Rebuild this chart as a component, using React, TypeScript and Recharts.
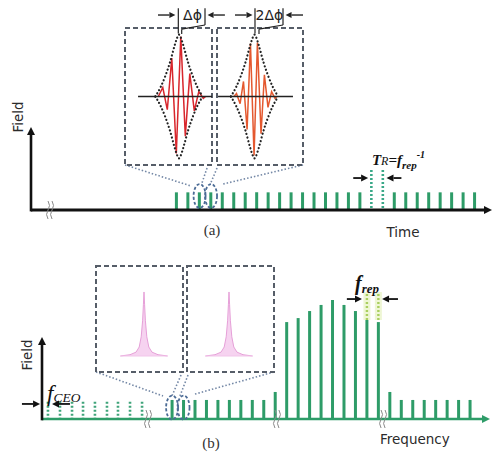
import React from "react";
import {
  Area,
  AreaChart,
  Bar,
  ComposedChart,
  Line,
  LineChart,
  ReferenceArea,
  ReferenceDot,
  ReferenceLine,
  XAxis,
  YAxis,
} from "recharts";

// (a) time domain: one pulse per round trip, two of them marked with dotted lines
const pulseSlot = [0, 1, 2, 3, 4, 5, 6, 7, 8, 9, 10, 11, 12, 13, 14, 15, 16, 17, 18, 19, 20, 21, 22, 23, 24, 25, 26];
const pulseField = [1, 1, 1, 1, 1, 1, 1, 1, 1, 1, 1, 1, 1, 1, 1, 1, 1, 0, 0, 1, 1, 1, 1, 1, 1, 1, 1];
const roundTripMark = [0, 0, 0, 0, 0, 0, 0, 0, 0, 0, 0, 0, 0, 0, 0, 0, 0, 2.27, 2.27, 0, 0, 0, 0, 0, 0, 0, 0];

// zoomed pulses (carrier extrema, fs) and their envelope
const cep1Time = [-9.2, -7.2, -5.2, -3.2, -1.2, 0.8, 2.8, 4.8, 6.8, 8.8, 10.8, 11.8];
const cep1Field = [0, 0.15, -0.22, 0.64, -0.95, 1.0, -0.66, 0.38, -0.24, 0.08, -0.03, 0];
const cep2Time = [-9.1, -8.0, -6.4, -4.9, -3.3, -1.8, -0.2, 1.3, 2.9, 4.4, 6.0, 7.6, 9.1, 10.0];
const cep2Field = [0, 0.05, -0.12, 0.25, -0.55, 0.88, -0.98, 0.9, -0.62, 0.36, -0.18, 0.08, -0.03, 0];
const envTime = [-10.5, -8, -6, -4, -2, -0.8, 0, 0.8, 2, 4, 6, 8, 10.5];
const envField = [0, 0.17, 0.35, 0.57, 0.84, 0.98, 1.03, 0.98, 0.84, 0.57, 0.35, 0.17, 0];

// (b) frequency domain: offset comb (dotted) and the visible modes, in units of f_rep
const ceoFreq = [0.52, 1.57, 2.62, 3.58, 4.62, 5.67, 6.63, 7.68, 8.73];
const ceoLevel = [0.9, 0.9, 0.9, 0.9, 0.9, 0.9, 0.9, 0.9, 0.9];
const modeFreq = [
  11.35, 12.35, 13.35, 14.35, 15.35, 16.35, 17.35, 18.35, 19.35, 20.35, 21.35, 22.35, 23.35, 24.35,
  25.35, 26.35, 27.35, 28.35, 29.35, 30.35, 31.35, 32.35, 33.35, 34.35, 35.35, 36.35, 37.35,
];
const modeLevel = [
  1, 1, 1, 1, 1, 1, 1, 1, 1, 1.42, 5.09, 5.3, 5.67, 5.99, 6.25, 5.99, 5.67, 5.3, 5.09, 1.42, 1, 1, 1, 1,
  1, 1, 1,
];

// single comb line shape
const lineDetuning = [-5.9, -3.5, -2, -1.2, -0.7, -0.35, -0.15, 0, 0.15, 0.35, 0.7, 1.2, 2, 3.5, 5.9];
const lineStrength = [0, 0.02, 0.06, 0.14, 0.3, 0.55, 0.8, 1, 0.8, 0.55, 0.3, 0.14, 0.06, 0.02, 0];

const GREEN = "#2e9c68";
const FRAME = "#565d68";
const LINK = "#7488a6";
const RING = "#4b6b95";
const INK = "#111";

const timeRows = pulseSlot.map((t, i) => ({ t, amp: pulseField[i], mark: roundTripMark[i] }));
const freqRows = [
  ...ceoFreq.map((f, i) => ({ f, amp: 0, ceo: ceoLevel[i] })),
  ...modeFreq.map((f, i) => ({ f, amp: modeLevel[i], ceo: 0 })),
];
const toRows = (xs: number[], ys: number[]) => xs.map((t, i) => ({ t, v: ys[i] }));
const envUpper = toRows(envTime, envField);
const envLower = toRows(envTime, envField.map((v) => -v));
const lineRows = toRows(lineDetuning, lineStrength);

function arrowShape(color: string, width: number, head = 7) {
  return (p: any) => {
    const { x1, y1, x2, y2 } = p;
    const a = Math.atan2(y2 - y1, x2 - x1);
    const bx = x2 - head * Math.cos(a);
    const by = y2 - head * Math.sin(a);
    const hw = head * 0.5;
    const px = -Math.sin(a) * hw;
    const py = Math.cos(a) * hw;
    return (
      <g>
        <line x1={x1} y1={y1} x2={bx} y2={by} stroke={color} strokeWidth={width} />
        <polygon points={`${x2},${y2} ${bx + px},${by + py} ${bx - px},${by - py}`} fill={color} />
      </g>
    );
  };
}

const dottedBar = (color: string) => (p: any) =>
  p.height > 0.5 ? (
    <line
      x1={p.x + p.width / 2}
      x2={p.x + p.width / 2}
      y1={p.y}
      y2={p.y + p.height}
      stroke={color}
      strokeWidth={2.6}
      strokeDasharray="2 2"
    />
  ) : (
    <g />
  );

const ring = (p: any) => (
  <ellipse cx={p.cx} cy={p.cy} rx={6} ry={12} fill="none" stroke={RING} strokeWidth={1.8} strokeDasharray="3 2" />
);

const breakMark = (p: any) => {
  const s = (x: number) => `M${x},${p.cy - 9} q3,4.5 0,9 q-3,4.5 0,9`;
  return (
    <g fill="none" stroke="#8a8a8a" strokeWidth={1}>
      <path d={s(p.cx - 2)} />
      <path d={s(p.cx + 2)} />
    </g>
  );
};

const trLabel = (p: any) => (
  <text x={p.cx} y={p.cy} fontFamily="Liberation Serif" fontStyle="italic" fontWeight="bold" fontSize={15} fill={INK}>
    T<tspan fontSize={12} fontWeight="normal">R</tspan>=f
    <tspan fontSize={11} dy={4}>rep</tspan>
    <tspan fontSize={10} dy={-11}>-1</tspan>
  </text>
);

const repLabel = (p: any) => (
  <text x={p.cx} y={p.cy} fontFamily="Liberation Serif" fontStyle="italic" fontWeight="bold" fontSize={20} fill={INK}>
    f<tspan fontSize={13} dy={3}>rep</tspan>
  </text>
);

const ceoLabel = (p: any) => (
  <text x={p.cx} y={p.cy} fontFamily="Liberation Serif" fontStyle="italic" fontSize={23} fill={INK}>
    f<tspan fontSize={13.5} dy={1}>CEO</tspan>
  </text>
);

const phaseLabel = (txt: string) => (p: any) => (
  <text x={p.cx} y={p.cy + 5} textAnchor="middle" fontFamily="DejaVu Sans" fontSize={14} fill="#222">
    {txt}
  </text>
);

const seg = (x1: number, y1: number, x2: number, y2: number) => [
  { x: x1, y: y1 },
  { x: x2, y: y2 },
];

interface PhaseInsetProps {
  left: number;
  width: number;
  marginLeft: number;
  marginRight: number;
  domain: [number, number];
  wave: { t: number; v: number }[];
  color: string;
  axisFrom: number;
  axisTo: number;
  envBar: number;
  peakBar: number;
  peakAt: number;
  arrowIn: [number, number];
  arrowOut: [number, number];
  text: string;
  textAt: number;
}

function PhaseInset(props: PhaseInsetProps) {
  const { domain } = props;
  return (
    <div style={{ position: "absolute", left: props.left, top: 0 }}>
      <LineChart
        width={props.width}
        height={170}
        margin={{ top: 28, bottom: 5, left: props.marginLeft, right: props.marginRight }}
      >
        <XAxis type="number" dataKey="t" domain={domain} allowDataOverflow hide />
        <YAxis type="number" domain={[-1.14, 1.14]} allowDataOverflow hide />
        <ReferenceArea
          x1={domain[0]}
          x2={domain[1]}
          y1={-1.14}
          y2={1.14}
          fill="none"
          stroke={FRAME}
          strokeWidth={2}
          strokeDasharray="5 3"
          ifOverflow="visible"
        />
        <Line data={props.wave} dataKey="v" type="linear" stroke={props.color} strokeWidth={1.5} dot={false} isAnimationActive={false} />
        <Line
          data={toRows([props.axisFrom, props.axisTo], [0, 0])}
          dataKey="v"
          stroke="#222"
          strokeWidth={1.4}
          dot={false}
          isAnimationActive={false}
        />
        <Line data={envUpper} dataKey="v" type="monotone" stroke="#222" strokeWidth={2.2} strokeDasharray="0.1 3.6" strokeLinecap="round" dot={false} isAnimationActive={false} />
        <Line data={envLower} dataKey="v" type="monotone" stroke="#222" strokeWidth={2.2} strokeDasharray="0.1 3.6" strokeLinecap="round" dot={false} isAnimationActive={false} />
        <ReferenceLine segment={seg(props.envBar, 1.05, props.envBar, 1.47)} stroke="#222" strokeWidth={1.2} ifOverflow="visible" />
        <ReferenceLine segment={seg(props.peakBar, 1.47, props.peakBar, 1.19)} stroke="#222" strokeWidth={1.2} ifOverflow="visible" />
        <ReferenceLine segment={seg(props.peakBar, 1.19, props.peakAt, 1.12)} stroke="#222" strokeWidth={1.2} ifOverflow="visible" />
        <ReferenceLine segment={seg(props.peakAt, 1.12, props.peakAt, 1.04)} stroke="#222" strokeWidth={1.2} ifOverflow="visible" />
        <ReferenceLine segment={seg(props.arrowIn[0], 1.356, props.arrowIn[1], 1.356)} shape={arrowShape("#222", 1.4, 6)} ifOverflow="visible" />
        <ReferenceLine segment={seg(props.arrowOut[0], 1.356, props.arrowOut[1], 1.356)} shape={arrowShape("#222", 1.4, 6)} ifOverflow="visible" />
        <ReferenceDot x={props.textAt} y={1.356} r={0} shape={phaseLabel(props.text)} ifOverflow="visible" />
      </LineChart>
    </div>
  );
}

function LineInset({ left, domain }: { left: number; domain: [number, number] }) {
  return (
    <div style={{ position: "absolute", left, top: 264 }}>
      <AreaChart width={91} height={110} data={lineRows} margin={{ top: 2, right: 2, bottom: 2, left: 2 }}>
        <XAxis type="number" dataKey="t" domain={domain} allowDataOverflow hide />
        <YAxis type="number" domain={[-0.25, 1.406]} allowDataOverflow hide />
        <ReferenceArea
          x1={domain[0]}
          x2={domain[1]}
          y1={-0.25}
          y2={1.406}
          fill="none"
          stroke={FRAME}
          strokeWidth={2}
          strokeDasharray="5 3"
          ifOverflow="visible"
        />
        <ReferenceLine segment={seg(-5.9, 0, 5.9, 0)} stroke="#f1c6e9" strokeWidth={1.2} ifOverflow="visible" />
        <Area
          dataKey="v"
          type="linear"
          baseValue={0}
          stroke="#e6a0d8"
          strokeWidth={1}
          fill="#f4c8ec"
          fillOpacity={0.8}
          isAnimationActive={false}
        />
      </AreaChart>
    </div>
  );
}

export default function App() {
  const axisText = { fontFamily: "DejaVu Sans", fontSize: 13.5, fill: "#2b2b2b" };
  const panelText = { fontFamily: "Liberation Serif", fontSize: 15, fill: "#333" };
  return (
    <div style={{ position: "absolute", left: 0, top: 0, width: 493, height: 459, background: "#fff", overflow: "hidden" }}>
      {/* (a) pulse train */}
      <div style={{ position: "absolute", left: 0, top: 0 }}>
        <ComposedChart width={493} height={232} data={timeRows} margin={{ top: 127, right: 1, bottom: 22, left: 31 }}>
          <XAxis type="number" dataKey="t" domain={[-12.7, 27.5]} allowDataOverflow hide />
          <YAxis type="number" domain={[0, 4.7]} allowDataOverflow hide />
          <Bar dataKey="amp" stackId="p" barSize={3} fill={GREEN} isAnimationActive={false} />
          <Bar dataKey="mark" stackId="p" barSize={3} shape={dottedBar("#3aa888")} isAnimationActive={false} />
          <ReferenceLine segment={seg(-4.5, 2.55, 1.25, 1.36)} stroke={LINK} strokeWidth={1.6} strokeDasharray="1.5 2" ifOverflow="visible" />
          <ReferenceLine segment={seg(11.02, 2.55, 4.04, 1.47)} stroke={LINK} strokeWidth={1.6} strokeDasharray="1.5 2" ifOverflow="visible" />
          <ReferenceLine segment={seg(2.65, 2.38, 2.21, 1.53)} stroke={LINK} strokeWidth={1.6} strokeDasharray="1.5 2" ifOverflow="visible" />
          <ReferenceLine segment={seg(3.52, 2.38, 2.91, 1.42)} stroke={LINK} strokeWidth={1.6} strokeDasharray="1.5 2" ifOverflow="visible" />
          <ReferenceDot x={2} y={0.79} r={0} shape={ring} ifOverflow="visible" />
          <ReferenceDot x={3} y={0.79} r={0} shape={ring} ifOverflow="visible" />
          <ReferenceLine segment={seg(15.4, 1.81, 16.7, 1.81)} shape={arrowShape(INK, 1.8)} ifOverflow="visible" />
          <ReferenceLine segment={seg(19.6, 1.81, 18.3, 1.81)} shape={arrowShape(INK, 1.8)} ifOverflow="visible" />
          <ReferenceDot x={17.03} y={2.55} r={0} shape={trLabel} ifOverflow="visible" />
          <ReferenceDot x={-11.04} y={0} r={0} shape={breakMark} ifOverflow="visible" />
          <ReferenceLine segment={seg(-12.7, 0, 27.5, 0)} shape={arrowShape(INK, 3, 8)} ifOverflow="visible" />
          <ReferenceLine segment={seg(-12.7, -0.08, -12.7, 4.7)} shape={arrowShape(INK, 2.6, 8)} ifOverflow="visible" />
        </ComposedChart>
      </div>

      {/* (b) frequency comb */}
      <div style={{ position: "absolute", left: 0, top: 0 }}>
        <ComposedChart width={493} height={459} data={freqRows} margin={{ top: 280, right: 3, bottom: 40, left: 42 }}>
          <XAxis type="number" dataKey="f" domain={[0, 39.09]} allowDataOverflow hide />
          <YAxis type="number" domain={[0, 7.3]} allowDataOverflow hide />
          <Bar dataKey="amp" stackId="c" barSize={3} fill={GREEN} isAnimationActive={false} />
          <Bar dataKey="ceo" stackId="c" barSize={3} shape={dottedBar("#3fa47a")} isAnimationActive={false} />
          <ReferenceLine segment={seg(4.71, 2.47, 10.56, 1.21)} stroke={LINK} strokeWidth={1.6} strokeDasharray="1.5 2" ifOverflow="visible" />
          <ReferenceLine segment={seg(20.24, 2.47, 13.35, 1.31)} stroke={LINK} strokeWidth={1.6} strokeDasharray="1.5 2" ifOverflow="visible" />
          <ReferenceLine segment={seg(12.13, 2.31, 11.34, 1.21)} stroke={LINK} strokeWidth={1.6} strokeDasharray="1.5 2" ifOverflow="visible" />
          <ReferenceLine segment={seg(12.74, 2.31, 12.04, 1.21)} stroke={LINK} strokeWidth={1.6} strokeDasharray="1.5 2" ifOverflow="visible" />
          <ReferenceDot x={11.35} y={0.6} r={0} shape={ring} ifOverflow="visible" />
          <ReferenceDot x={12.35} y={0.6} r={0} shape={ring} ifOverflow="visible" />
          <ReferenceLine segment={seg(28.35, 5.2, 28.35, 6.67)} stroke="#eef6d4" strokeWidth={7} ifOverflow="visible" />
          <ReferenceLine segment={seg(29.35, 5.2, 29.35, 6.67)} stroke="#eef6d4" strokeWidth={7} ifOverflow="visible" />
          <ReferenceLine segment={seg(28.35, 5.2, 28.35, 6.67)} stroke="#a9cf5f" strokeWidth={2.4} strokeDasharray="2 2" ifOverflow="visible" />
          <ReferenceLine segment={seg(29.35, 5.2, 29.35, 6.67)} stroke="#a9cf5f" strokeWidth={2.4} strokeDasharray="2 2" ifOverflow="visible" />
          <ReferenceLine segment={seg(26.6, 6.3, 27.92, 6.3)} shape={arrowShape(INK, 1.8)} ifOverflow="visible" />
          <ReferenceLine segment={seg(31.06, 6.3, 29.67, 6.3)} shape={arrowShape(INK, 1.8)} ifOverflow="visible" />
          <ReferenceDot x={27.31} y={6.78} r={0} shape={repLabel} ifOverflow="visible" />
          <ReferenceLine segment={seg(-1.75, 0.79, -0.17, 0.79)} shape={arrowShape(INK, 1.8)} ifOverflow="visible" />
          <ReferenceLine segment={seg(2.44, 0.79, 0.87, 0.79)} shape={arrowShape(INK, 1.8)} ifOverflow="visible" />
          <ReferenceDot x={0.44} y={0.95} r={0} shape={ceoLabel} ifOverflow="visible" />
          <ReferenceDot x={9.25} y={0} r={0} shape={breakMark} ifOverflow="visible" />
          <ReferenceDot x={20.5} y={0} r={0} shape={breakMark} ifOverflow="visible" />
          <ReferenceDot x={29.76} y={0} r={0} shape={breakMark} ifOverflow="visible" />
          <ReferenceLine segment={seg(0, 0, 39.09, 0)} shape={arrowShape(GREEN, 2.6, 8)} ifOverflow="visible" />
          <ReferenceLine segment={seg(0, -0.07, 0, 4.31)} shape={arrowShape(INK, 2.6, 8)} ifOverflow="visible" />
        </ComposedChart>
      </div>

      <PhaseInset
        left={100}
        width={150}
        marginLeft={25}
        marginRight={38}
        domain={[-24, 14.67]}
        wave={toRows(cep1Time, cep1Field)}
        color="#d8262c"
        axisFrom={-18.2}
        axisTo={14.67}
        envBar={-0.3}
        peakBar={11.56}
        peakAt={1.2}
        arrowIn={[-9.33, -1.6]}
        arrowOut={[20.4, 12.7]}
        text="Δϕ"
        textAt={6.0}
      />
      <PhaseInset
        left={200}
        width={120}
        marginLeft={17}
        marginRight={17}
        domain={[-16.67, 21.56]}
        wave={toRows(cep2Time, cep2Field)}
        color="#e4582f"
        axisFrom={-16.2}
        axisTo={17.1}
        envBar={0.22}
        peakBar={12.67}
        peakAt={2.0}
        arrowIn={[-8.67, -0.9]}
        arrowOut={[21.56, 13.8]}
        text="2Δϕ"
        textAt={6.6}
      />

      <LineInset left={94} domain={[-12, 9.75]} />
      <LineInset left={185} domain={[-10.5, 11.25]} />

      <svg width={493} height={459} style={{ position: "absolute", left: 0, top: 0, pointerEvents: "none" }}>
        <text transform="translate(23,117) rotate(-90)" textAnchor="middle" {...axisText}>
          Field
        </text>
        <text transform="translate(32,355) rotate(-90)" textAnchor="middle" {...axisText}>
          Field
        </text>
        <text x={212} y={235} textAnchor="middle" {...panelText}>
          (a)
        </text>
        <text x={403} y={237} textAnchor="middle" {...axisText}>
          Time
        </text>
        <text x={211} y={448} textAnchor="middle" {...panelText}>
          (b)
        </text>
        <text x={380} y={444} {...axisText}>
          Frequency
        </text>
      </svg>
    </div>
  );
}
